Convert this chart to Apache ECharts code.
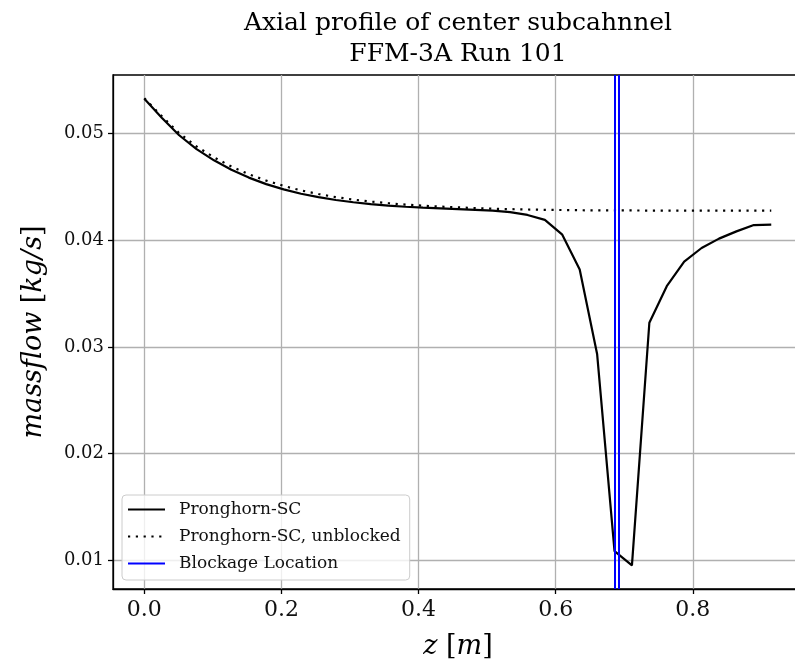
<!DOCTYPE html>
<html>
<head>
<meta charset="utf-8">
<script src="https://cdn.jsdelivr.net/npm/echarts@6/dist/echarts.min.js"></script>
<style>
  html, body { margin: 0; padding: 0; background: #fff; }
  #chart { width: 795px; height: 664px; }
</style>
</head>
<body>
<div id="chart"></div>
<script>
// axial positions [m]
const zValues = [0, 0.0254, 0.0508, 0.0762, 0.1016, 0.127, 0.1524, 0.1778, 0.2032, 0.2286,
  0.254, 0.2794, 0.3048, 0.3302, 0.3556, 0.381, 0.4064, 0.4318, 0.4572, 0.4826,
  0.508, 0.5334, 0.5588, 0.5842, 0.6096, 0.635, 0.6604, 0.6858, 0.7112, 0.7366,
  0.762, 0.7874, 0.8128, 0.8382, 0.8636, 0.889, 0.9144];

// Pronghorn-SC (blocked)
const massflowBlocked = [0.05327, 0.05150, 0.04985, 0.04855, 0.04750, 0.04662, 0.04588, 0.04527, 0.04478, 0.04437,
  0.04405, 0.04378, 0.04357, 0.04340, 0.04326, 0.04315, 0.04307, 0.04300, 0.04293, 0.04286,
  0.04278, 0.04264, 0.04238, 0.04192, 0.04053, 0.03726, 0.02935, 0.01087, 0.00953, 0.03227,
  0.03570, 0.03800, 0.03928, 0.04016, 0.04084, 0.04143, 0.04148];

// Pronghorn-SC, unblocked
const massflowUnblocked = [0.05332, 0.05165, 0.05005, 0.04880, 0.04778, 0.04692, 0.04620, 0.04560, 0.04510, 0.04468,
  0.04434, 0.04405, 0.04382, 0.04363, 0.04348, 0.04335, 0.04325, 0.04316, 0.04309, 0.04302,
  0.04296, 0.04292, 0.04289, 0.04286, 0.04284, 0.04282, 0.04281, 0.04280, 0.04280, 0.04279,
  0.04279, 0.04278, 0.04278, 0.04278, 0.04278, 0.04278, 0.04278];

// blockage location [m] (start / end of the blocked region)
const blockageZ = [0.6858, 0.6922];

const xTicks = [0, 0.2, 0.4, 0.6, 0.8];
const yTicks = [0.01, 0.02, 0.03, 0.04, 0.05];

const xRange = [-0.0457, 0.9607];
const yRange = [0.00731, 0.0555];

const serif = 'DejaVu Serif';

const chart = echarts.init(document.getElementById('chart'));

chart.setOption({
  animation: false,
  title: {
    text: 'Axial profile of center subcahnnel\nFFM-3A Run 101',
    left: 458,
    top: 8,
    textAlign: 'center',
    padding: 0,
    textStyle: { fontFamily: serif, fontSize: 25, fontWeight: 'normal', color: '#000', lineHeight: 31 }
  },
  grid: {
    left: 113, top: 75, width: 690, height: 514,
    outerBoundsMode: 'none',
    containLabel: false,
    show: true, borderColor: '#000', borderWidth: 1.3, backgroundColor: 'transparent'
  },
  legend: {
    orient: 'vertical',
    left: 122, top: 495,
    padding: [6, 9, 8, 5],
    itemWidth: 37, itemHeight: 14, itemGap: 10,
    backgroundColor: 'rgba(255,255,255,0.8)',
    borderColor: '#cccccc', borderWidth: 1, borderRadius: 4,
    itemStyle: { opacity: 0 },
    textStyle: { fontFamily: serif, fontSize: 17, color: '#111', padding: [0, 0, 0, 9] },
    data: ['Pronghorn-SC', 'Pronghorn-SC, unblocked', 'Blockage Location']
  },
  xAxis: {
    type: 'value',
    min: xRange[0], max: xRange[1],
    splitNumber: 5,
    name: '{i|z} [{i|m}]',
    nameLocation: 'middle',
    nameGap: 44,
    nameTextStyle: {
      fontFamily: serif, fontSize: 27, color: '#000',
      rich: { i: { fontFamily: serif, fontSize: 27, fontStyle: 'italic', color: '#000' } }
    },
    axisLine: { show: true, onZero: false, lineStyle: { color: '#000', width: 1.3 } },
    axisTick: { show: true, length: 5, lineStyle: { color: '#000', width: 1.3 }, customValues: xTicks },
    axisLabel: {
      fontFamily: serif, fontSize: 22, color: '#111', margin: 10,
      customValues: xTicks,
      formatter: v => v.toFixed(1)
    },
    splitLine: { show: true, lineStyle: { color: '#b0b0b0', width: 1.3 } }
  },
  yAxis: {
    type: 'value',
    min: yRange[0], max: yRange[1],
    splitNumber: 5,
    name: '{i|massflow} [{i|kg/s}]',
    nameLocation: 'middle',
    nameRotate: 90,
    nameGap: 66,
    nameTextStyle: {
      fontFamily: serif, fontSize: 27, color: '#000',
      rich: { i: { fontFamily: serif, fontSize: 27, fontStyle: 'italic', color: '#000' } }
    },
    axisLine: { show: true, onZero: false, lineStyle: { color: '#000', width: 1.3 } },
    axisTick: { show: true, length: 5, lineStyle: { color: '#000', width: 1.3 }, customValues: yTicks },
    axisLabel: {
      fontFamily: serif, fontSize: 18, color: '#111', margin: 9,
      customValues: yTicks,
      formatter: v => v.toFixed(2)
    },
    splitLine: { show: true, lineStyle: { color: '#b0b0b0', width: 1.3 } }
  },
  series: [
    {
      name: 'Pronghorn-SC',
      type: 'line',
      data: zValues.map((z, i) => [z, massflowBlocked[i]]),
      symbol: 'none',
      lineStyle: { color: '#000', width: 2.2 },
      itemStyle: { color: '#000' },
      z: 4
    },
    {
      name: 'Pronghorn-SC, unblocked',
      type: 'line',
      data: zValues.map((z, i) => [z, massflowUnblocked[i]]),
      symbol: 'none',
      lineStyle: { color: '#000', width: 2.2, type: [2.2, 5.6] },
      itemStyle: { color: '#000' },
      z: 3
    },
    {
      name: 'Blockage Location',
      type: 'line',
      data: [],
      symbol: 'none',
      lineStyle: { color: '#0000ff', width: 2.2 },
      itemStyle: { color: '#0000ff' },
      markLine: {
        silent: true,
        symbol: ['none', 'none'],
        label: { show: false },
        lineStyle: { color: '#0000ff', width: 2, type: 'solid' },
        data: blockageZ.map(z => [
          { coord: [z, yRange[0]] },
          { coord: [z, yRange[1]] }
        ])
      },
      z: 5
    }
  ]
});
</script>
</body>
</html>
